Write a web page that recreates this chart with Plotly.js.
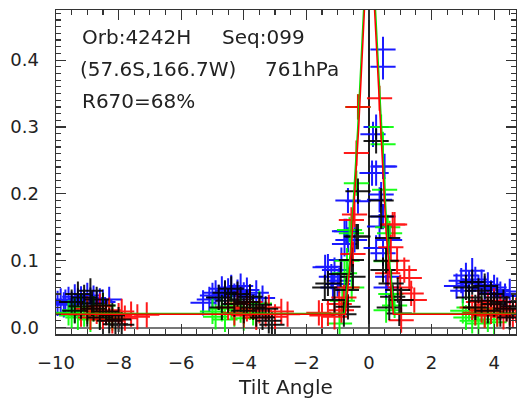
<!DOCTYPE html>
<html>
<head>
<meta charset="utf-8">
<script src="https://cdn.plot.ly/plotly-3.0.1.min.js"></script>
<style>html,body{margin:0;padding:0;background:#fff;}#chart{width:517px;height:406px;}</style>
</head>
<body>
<div id="chart"></div>
<script>
// ---- data ----
const blueX = [-9.95,-9.85,-9.75,-9.7,-9.6,-9.5,-9.4,-9.3,-9.2,-9.1,-9.0,-8.9,-8.8,-8.7,-8.6,-8.5,-8.3,
  -5.3,-5.1,-5.0,-4.9,-4.8,-4.7,-4.6,-4.5,-4.4,-4.3,-4.2,-4.1,-4.0,-3.9,-3.8,-3.6,-3.4,
  -1.4,-1.31,-1.2,-1.15,-1.1,-1.0,-0.95,-0.88,-0.78,-0.78,-0.72,-0.67,-0.67,-0.46,-0.35,
  0.45,0.45,0.23,0.13,0.45,0.23,0.1,0.5,0.34,0.39,0.45,0.66,0.34,0.23,0.45,0.6,0.55,
  2.8,2.95,3.0,3.1,3.2,3.3,3.4,3.5,3.6,3.7,3.8,3.9,4.0,4.1,4.2,4.35,4.5];
const blueY = [0.036,0.040,0.034,0.038,0.042,0.035,0.046,0.040,0.043,0.038,0.048,0.041,0.044,0.036,0.040,0.038,0.042,
  0.037,0.042,0.048,0.052,0.045,0.058,0.050,0.055,0.060,0.047,0.053,0.062,0.049,0.056,0.045,0.052,0.044,
  0.090,0.091,0.076,0.060,0.086,0.065,0.070,0.101,0.125,0.144,0.144,0.131,0.190,0.131,0.189,
  0.416,0.390,0.300,0.289,0.241,0.231,0.231,0.241,0.191,0.199,0.166,0.131,0.151,0.119,0.111,0.076,0.060,
  0.062,0.070,0.055,0.078,0.066,0.085,0.072,0.060,0.068,0.058,0.064,0.052,0.060,0.056,0.050,0.047,0.054];

const greenX = [-9.6,-9.5,-9.4,-9.3,-9.2,-9.1,-9.0,-8.9,-8.8,-8.6,-8.5,-8.3,-8.2,
  -5.0,-4.9,-4.7,-4.6,-4.4,-4.3,-4.1,-4.0,-3.8,-3.7,-3.5,
  -0.35,-0.4,-0.62,-0.56,-0.78,-0.94,-0.7,-0.55,-0.85,
  0.39,0.45,0.5,0.66,0.55,0.82,0.55,0.6,0.7,
  3.0,3.1,3.2,3.3,3.4,3.5,3.6,3.7,3.8,3.9,4.0,4.1];
const greenY = [0.022,0.018,0.026,0.015,0.030,0.020,0.024,0.012,0.028,0.018,0.033,0.022,0.014,
  0.024,0.016,0.028,0.012,0.032,0.020,0.026,0.014,0.030,0.022,0.036,
  0.330,0.216,0.146,0.141,0.081,0.006,0.100,0.060,0.040,
  0.300,0.274,0.206,0.141,0.099,0.033,0.026,0.150,0.050,
  0.025,0.015,0.030,0.010,0.022,0.006,0.028,0.018,0.012,0.024,0.008,0.020];

const redX = [-9.2,-9.0,-8.9,-8.7,-8.6,-8.5,-8.4,-8.3,-8.2,-8.0,-7.9,-7.8,-7.6,-7.4,-7.1,
  -4.5,-4.3,-4.2,-4.0,-3.9,-3.8,-3.6,-3.5,-3.3,-3.2,-3.0,-2.8,-2.6,
  -1.6,-1.5,-1.31,-1.1,-0.88,-0.95,-0.56,-0.46,-0.4,-0.35,-0.51,-0.7,-0.8,
  0.34,0.76,0.82,1.13,1.29,1.35,1.45,0.6,1.03,0.9,0.7,1.0,
  3.3,3.4,3.5,3.6,3.7,3.8,3.9,4.0,4.1,4.2,4.3,4.4,4.5,4.6,4.7];
const redY = [0.020,0.028,0.015,0.024,0.032,0.012,0.022,0.026,0.010,0.018,0.024,0.014,0.020,0.016,0.019,
  0.030,0.022,0.036,0.018,0.028,0.038,0.015,0.025,0.020,0.030,0.016,0.024,0.020,
  0.022,0.018,0.021,0.016,0.026,0.035,0.161,0.169,0.261,0.330,0.110,0.060,0.045,
  0.343,0.154,0.154,0.086,0.074,0.051,0.041,0.081,0.011,0.100,0.120,0.060,
  0.030,0.022,0.038,0.026,0.018,0.034,0.024,0.040,0.020,0.030,0.016,0.028,0.022,0.018,0.026];

const blackX = [-9.5,-9.4,-9.3,-9.2,-9.1,-9.0,-8.9,-8.85,-8.8,-8.7,-8.6,-8.5,-8.4,-8.3,-8.2,-8.1,-8.0,-7.9,
  -4.8,-4.7,-4.6,-4.5,-4.4,-4.3,-4.2,-4.1,-4.0,-3.9,-3.8,-3.7,-3.6,-3.5,-3.4,-3.3,-3.2,-3.1,
  -1.41,-1.31,-1.1,-0.72,-0.67,-0.56,-0.51,-0.4,-0.35,-0.35,-0.9,-0.8,
  0.23,0.39,0.39,0.6,0.45,0.71,0.92,1.03,0.97,0.76,0.55,0.65,
  3.1,3.2,3.3,3.4,3.5,3.6,3.7,3.8,3.9,4.0,4.1,4.2,4.3,4.4,4.5,4.6];
const blackY = [0.038,0.025,0.050,0.032,0.045,0.020,0.055,0.036,0.028,0.042,0.015,0.033,0.024,0.010,0.018,0.005,0.012,0.004,
  0.045,0.030,0.052,0.040,0.058,0.035,0.050,0.042,0.025,0.038,0.046,0.030,0.020,0.034,0.015,0.028,0.010,0.004,
  0.060,0.066,0.041,0.056,0.031,0.101,0.076,0.136,0.204,0.136,0.080,0.020,
  0.279,0.190,0.166,0.134,0.086,0.066,0.056,0.041,0.021,0.046,0.100,0.030,
  0.060,0.045,0.068,0.030,0.055,0.040,0.062,0.025,0.050,0.035,0.045,0.020,0.038,0.028,0.015,0.032];

// fitted curves
const redLineX = [-10, -0.75, -0.57, -0.33, -0.143, 0.02, 0.18, 0.37, 0.55, 0.78, 4.7];
const redLineY = [0.020, 0.020, 0.111, 0.296, 0.475, 0.63, 0.475, 0.296, 0.141, 0.020, 0.020];
const greenLineX = [-10, -0.78, -0.60, -0.36, -0.17, 0.01, 0.21, 0.40, 0.58, 0.81, 4.7];
const greenLineY = [0.021, 0.021, 0.111, 0.296, 0.475, 0.63, 0.475, 0.296, 0.141, 0.021, 0.021];

const textLines = [
  ["Orb:4242H", "Seq:099"],
  ["(57.6S,166.7W)", "761hPa"],
  ["R670=68%"]
];

// ---- drawing ----
const FONT = "DejaVu Sans";
function crosses(x, y, color) {
  return {x: x, y: y, type: 'scatter', mode: 'markers', hoverinfo: 'skip',
    opacity: 0.9,
    marker: {symbol: 'cross-thin-open', size: 18, color: color, line: {color: color, width: 2}}};
}
const traces = [
  crosses(blueX, blueY, 'rgb(0,0,255)'),
  crosses(greenX, greenY, 'rgb(0,255,0)'),
  crosses(redX, redY, 'rgb(255,0,0)'),
  crosses(blackX, blackY, 'rgb(0,0,0)'),
  {x: greenLineX, y: greenLineY, type: 'scatter', mode: 'lines', line: {color: 'rgb(0,230,0)', width: 1.5}},
  {x: redLineX, y: redLineY, type: 'scatter', mode: 'lines', line: {color: 'rgb(255,0,0)', width: 1.5}}
];

// plot area in pixels: x 56..516, y 10..334
const PL = 56, PR = 516, PT = 10, PB = 334;
function px2paperX(p) { return (p - PL) / (PR - PL); }
function px2paperY(p) { return (PB - p) / (PB - PT); }
const lineLeft = [[80, 220], [78, 263], [80]];
const lineMid = [37, 69, 101];
const annotations = [];
textLines.forEach((parts, i) => {
  parts.forEach((t, j) => {
    annotations.push({text: t, xref: 'paper', yref: 'paper',
      x: px2paperX(lineLeft[i][j]), y: px2paperY(lineMid[i]),
      xanchor: 'left', yanchor: 'middle', showarrow: false,
      font: {family: FONT, size: 20, color: '#222'}});
  });
});

const axisCommon = {
  showgrid: false, showline: true, linecolor: '#333', linewidth: 1.5,
  ticks: 'inside', ticklen: 10, tickwidth: 1.2, tickcolor: '#333', mirror: 'allticks',
  tickfont: {family: FONT, size: 18, color: '#222'}
};
const layout = {
  width: 517, height: 406,
  margin: {l: PL, r: 517 - PR, t: PT, b: 406 - PB},
  paper_bgcolor: '#fff', plot_bgcolor: '#fff',
  showlegend: false,
  xaxis: Object.assign({}, axisCommon, {
    range: [-10, 4.7], tick0: 0, dtick: 2, ticklabelstandoff: 12,
    minor: {dtick: 0.5, ticklen: 5, tickwidth: 1.2, tickcolor: '#333', ticks: 'inside'},
    zeroline: true, zerolinecolor: '#222', zerolinewidth: 1.5,
    title: {text: 'Tilt Angle', font: {family: FONT, size: 20, color: '#222'}, standoff: 8}
  }),
  yaxis: Object.assign({}, axisCommon, {
    range: [-0.0097, 0.475], tick0: 0, dtick: 0.1, tickformat: '.1f', ticklabelstandoff: 12,
    minor: {dtick: 0.01, ticklen: 5, tickwidth: 1.2, tickcolor: '#333', ticks: 'inside'},
    zeroline: true, zerolinecolor: '#777', zerolinewidth: 2
  }),
  annotations: annotations
};
Plotly.newPlot('chart', traces, layout, {staticPlot: true, displayModeBar: false});
</script>
</body>
</html>
